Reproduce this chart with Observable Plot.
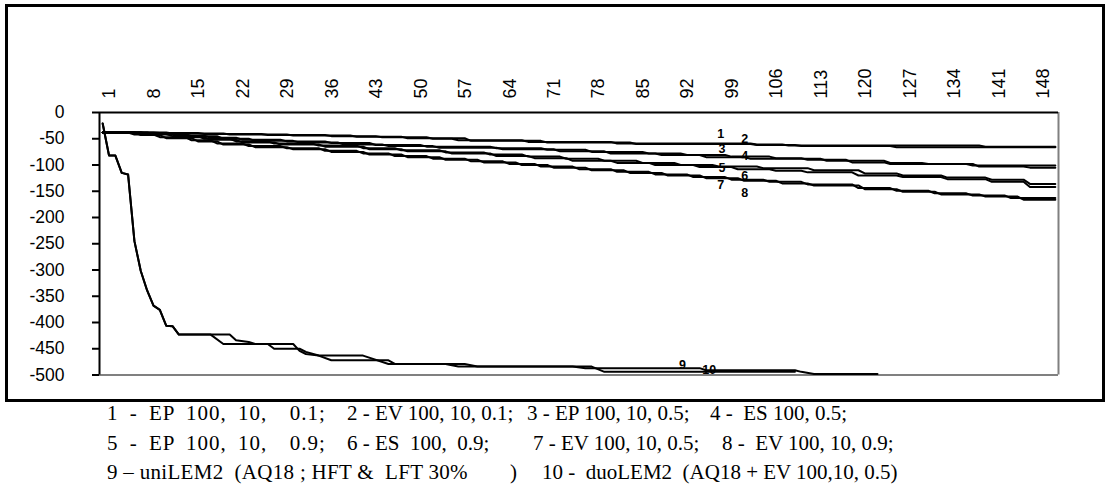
<!DOCTYPE html>
<html>
<head>
<meta charset="utf-8">
<script src="https://cdn.jsdelivr.net/npm/d3@7"></script>
<script src="https://cdn.jsdelivr.net/npm/@observablehq/plot@0.6"></script>
<style>
  html, body { margin: 0; padding: 0; background: #fff; }
  #wrap { position: relative; width: 1107px; height: 493px; overflow: hidden; }
  #frame { position: absolute; left: 5px; top: 4px; width: 1100px; height: 398px; box-sizing: border-box; border: 3px solid #000; pointer-events: none; }
  #chart { position: absolute; left: 0; top: 0; }
  .cap { position: absolute; font-family: "Liberation Serif", "Times New Roman", serif; font-size: 21px; color: #000; white-space: pre; line-height: 1; }
</style>
</head>
<body>
<div id="wrap">
  <div id="chart"></div>
  <div id="frame"></div>
</div>
<script>
// ---- data ----
const xTicks = [1, 8, 15, 22, 29, 36, 43, 50, 57, 64, 71, 78, 85, 92, 99, 106, 113, 120, 127, 134, 141, 148];
const yTicks = [0, -50, -100, -150, -200, -250, -300, -350, -400, -450, -500];

// polyline vertices [category, value]
const s1 = [[1,-38],[9,-38],[10,-39],[16,-39],[17,-41],[26,-41],[27,-43],[36,-43],[37,-45],[44,-45],[45,-47],[52,-47],[53,-50],[56,-50],[57,-53],[67,-53],[68,-56],[81,-56],[82,-59],[103,-59],[104,-61],[108,-61],[109,-63],[139,-63],[140,-65],[151,-65]];
const s2 = [[1,-38],[11,-38],[12,-40],[20,-40],[21,-42],[30,-42],[31,-44],[40,-44],[41,-46],[48,-46],[49,-49],[58,-49],[59,-54],[70,-54],[71,-57],[84,-57],[85,-60],[103,-60],[104,-62],[110,-62],[111,-64],[125,-64],[126,-66],[151,-66]];
const s3 = [[1,-38],[7,-38],[8,-40],[12,-40],[13,-44],[17,-44],[18,-48],[22,-48],[23,-52],[29,-52],[30,-55],[36,-55],[37,-58],[43,-58],[44,-62],[51,-62],[52,-65],[62,-65],[63,-68],[70,-68],[71,-71],[77,-71],[78,-75],[86,-75],[87,-78],[92,-78],[93,-81],[99,-81],[100,-84],[106,-84],[107,-87],[111,-87],[112,-90],[118,-90],[119,-95],[124,-95],[125,-98],[137,-98],[138,-101],[151,-101]];
const s4 = [[1,-38],[8,-38],[9,-41],[14,-41],[15,-45],[19,-45],[20,-50],[24,-50],[25,-54],[31,-54],[32,-57],[38,-57],[39,-61],[45,-61],[46,-64],[53,-64],[54,-67],[63,-67],[64,-70],[72,-70],[73,-74],[80,-74],[81,-78],[88,-78],[89,-81],[95,-81],[96,-85],[102,-85],[103,-88],[114,-88],[115,-92],[124,-92],[125,-96],[130,-96],[131,-98],[138,-98],[139,-103],[146,-103],[147,-105],[151,-105]];
const s5 = [[1,-38],[6,-38],[7,-41],[11,-41],[12,-45],[16,-45],[17,-50],[21,-50],[22,-55],[27,-55],[28,-59],[34,-59],[35,-63],[41,-63],[42,-68],[47,-68],[48,-72],[54,-72],[55,-76],[61,-76],[62,-80],[67,-80],[68,-84],[73,-84],[74,-88],[79,-88],[80,-92],[85,-92],[86,-96],[91,-96],[92,-100],[97,-100],[98,-103],[104,-103],[105,-106],[112,-106],[113,-110],[120,-110],[121,-116],[126,-116],[127,-120],[133,-120],[134,-124],[140,-124],[141,-128],[146,-128],[147,-136],[151,-136]];
const s6 = [[1,-38],[7,-38],[8,-42],[12,-42],[13,-47],[17,-47],[18,-52],[22,-52],[23,-57],[28,-57],[29,-61],[35,-61],[36,-65],[42,-65],[43,-70],[48,-70],[49,-74],[55,-74],[56,-78],[62,-78],[63,-83],[68,-83],[69,-87],[74,-87],[75,-92],[81,-92],[82,-96],[87,-96],[88,-100],[94,-100],[95,-104],[100,-104],[101,-108],[106,-108],[107,-111],[111,-111],[112,-114],[119,-114],[120,-120],[126,-120],[127,-123],[133,-123],[134,-127],[140,-127],[141,-132],[146,-132],[147,-142],[151,-142]];
const s7 = [[1,-38],[5,-38],[6,-42],[9,-42],[10,-47],[14,-47],[15,-53],[18,-53],[19,-59],[23,-59],[24,-64],[29,-64],[30,-68],[35,-68],[36,-73],[41,-73],[42,-78],[46,-78],[47,-83],[52,-83],[53,-88],[58,-88],[59,-93],[64,-93],[65,-98],[69,-98],[70,-103],[75,-103],[76,-108],[81,-108],[82,-113],[87,-113],[88,-118],[93,-118],[94,-123],[99,-123],[100,-128],[105,-128],[106,-132],[111,-132],[112,-137],[119,-137],[120,-144],[125,-144],[126,-149],[131,-149],[132,-154],[137,-154],[138,-158],[143,-158],[144,-163],[151,-163]];
const s8 = [[1,-38],[6,-38],[7,-43],[10,-43],[11,-49],[15,-49],[16,-55],[19,-55],[20,-61],[24,-61],[25,-66],[30,-66],[31,-70],[36,-70],[37,-75],[42,-75],[43,-80],[48,-80],[49,-85],[54,-85],[55,-90],[60,-90],[61,-95],[66,-95],[67,-100],[71,-100],[72,-105],[77,-105],[78,-110],[83,-110],[84,-115],[89,-115],[90,-120],[95,-120],[96,-125],[101,-125],[102,-130],[107,-130],[108,-135],[112,-135],[113,-139],[120,-139],[121,-146],[126,-146],[127,-151],[132,-151],[133,-156],[139,-156],[140,-160],[145,-160],[146,-166],[151,-166]];
const s9 = [[1,-21],[2,-82],[3,-82],[4,-115],[5,-118],[6,-245],[7,-302],[8,-339],[9,-368],[10,-376],[11,-406],[12,-407],[13,-423],[21,-423],[22,-434],[24,-437],[25,-441],[31,-441],[32,-454],[33,-460],[35,-463],[42,-463],[46,-479],[55,-479],[57,-484],[75,-484],[77,-487],[95,-487],[96,-491],[110,-491],[111,-494],[113,-498],[123,-498]];
const s10 = [[1,-21],[2,-82],[3,-82],[4,-115],[5,-118],[6,-245],[7,-302],[8,-339],[9,-368],[10,-376],[11,-406],[12,-407],[13,-423],[18,-423],[20,-441],[27,-441],[28,-450],[32,-450],[33,-456],[35,-463],[37,-472],[46,-472],[47,-479],[58,-479],[60,-484],[78,-484],[80,-494],[110,-494]];
const seriesList = [s1, s2, s3, s4, s5, s6, s7, s8, s9, s10];

const labelText = ["1", "2", "3", "4", "5", "6", "7", "8", "9", "10"];
const labelX = [98.3, 102.1, 98.5, 102.1, 98.5, 102.1, 98.3, 102.1, 92.3, 96.5];
const labelY = [-40, -51.4, -68.6, -83.8, -104.8, -120, -139, -152.4, -481.9, -491.4];

// caption text pieces (row by row)
const captionRows = [
  ["1 - EP 100, 10,  0.1;", "2 - EV 100, 10, 0.1;", "3 - EP 100, 10, 0.5;", "4 -  ES 100, 0.5;"],
  ["5 - EP 100, 10,  0.9;", "6 - ES  100,  0.9;", "7 - EV 100, 10, 0.5;", "8 -  EV 100, 10, 0.9;"],
  ["9 \u2013 uniLEM2  (AQ18 ; HFT &  LFT 30%", ")", "10 -  duoLEM2  (AQ18 + EV 100,10, 0.5)"]
];

// ---- build ----
const lineData = seriesList.flatMap((s, i) => s.map(([x, y]) => ({x, y, s: i + 1})));
const labels = labelText.map((t, i) => ({t, x: labelX[i], y: labelY[i]}));

const chart = Plot.plot({
  width: 1107,
  height: 405,
  marginLeft: 99,
  marginRight: 49,
  marginTop: 112,
  marginBottom: 30.5,
  style: {fontFamily: "'Liberation Sans', Arial, sans-serif", background: "transparent", color: "#000"},
  x: {domain: [0.5, 151.5], axis: null},
  y: {domain: [-500, 0], axis: null},
  marks: [
    Plot.ruleY([-500], {stroke: "#808080", strokeWidth: 2}),
    Plot.ruleX([151.5], {stroke: "#808080", strokeWidth: 2}),
    Plot.line(lineData, {x: "x", y: "y", z: "s", stroke: "#000", strokeWidth: 2, strokeLinejoin: "round"}),
    Plot.ruleY([0], {stroke: "#000", strokeWidth: 2}),
    Plot.ruleX([0.5], {stroke: "#000", strokeWidth: 2}),
    Plot.axisY(yTicks, {tickSize: 7, strokeWidth: 2, tickFormat: () => "", label: null}),
    Plot.text(yTicks, {y: d => d, frameAnchor: "left", dx: -35, textAnchor: "end", text: d => String(d), fontSize: 17.5, fill: "#000"}),
    Plot.text(xTicks, {x: d => d, frameAnchor: "top", dy: -14, rotate: -90, textAnchor: "start", text: d => String(d), fontSize: 18, fill: "#000"}),
    Plot.text(labels, {x: "x", y: "y", text: "t", fontSize: 12.5, fontWeight: "bold", fill: "#000"})
  ]
});
document.getElementById("chart").appendChild(chart);

// caption layout: [left, letter-spacing, word-spacing]
const capLayout = [
  [[107, 1, 5], [347, 0, 0], [527, 0, 0], [710, 0, 0]],
  [[107, 1, 5], [347, 0, 0], [533, 0, 0], [722, 0, 0]],
  [[107, 0.3, 0], [510, 0, 0], [542, 0, 0]]
];
const capTop = [403, 433, 462];
const wrap = document.getElementById("wrap");
captionRows.forEach((row, r) => {
  row.forEach((txt, c) => {
    const el = document.createElement("div");
    el.className = "cap";
    el.textContent = txt;
    el.style.left = capLayout[r][c][0] + "px";
    el.style.letterSpacing = capLayout[r][c][1] + "px";
    el.style.wordSpacing = capLayout[r][c][2] + "px";
    el.style.top = capTop[r] + "px";
    wrap.appendChild(el);
  });
});
</script>
</body>
</html>
